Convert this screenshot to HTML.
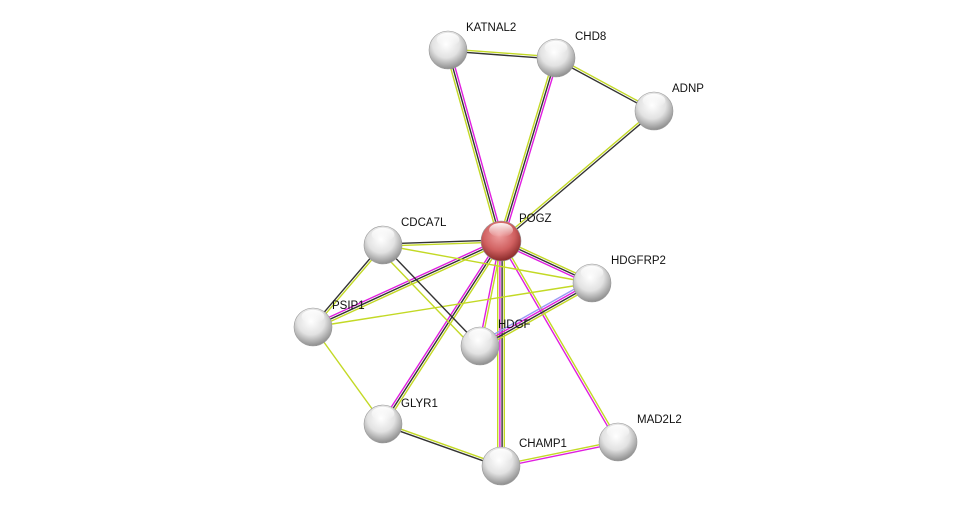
<!DOCTYPE html>
<html><head><meta charset="utf-8">
<style>
html,body{margin:0;padding:0;background:#fff;}
svg{display:block}
text{font-family:"Liberation Sans",sans-serif;font-size:11.5px;fill:#111}
</style></head>
<body>
<svg id="s" width="975" height="511" xmlns="http://www.w3.org/2000/svg">
<defs>
<radialGradient id="g" cx="45%" cy="35%" r="65%">
<stop offset="0" stop-color="#ffffff"/><stop offset="0.55" stop-color="#e2e2e2"/><stop offset="1" stop-color="#8e8e8e"/>
</radialGradient>
<radialGradient id="r" cx="45%" cy="35%" r="65%">
<stop offset="0" stop-color="#f0a0a0"/><stop offset="0.6" stop-color="#d06060"/><stop offset="1" stop-color="#8a2a2a"/>
</radialGradient>
<linearGradient id="h" x1="0" y1="0" x2="0" y2="1">
<stop offset="0" stop-color="#fff" stop-opacity="0.95"/><stop offset="1" stop-color="#fff" stop-opacity="0"/>
</linearGradient>
</defs>
<g id="e"></g><g id="n"></g>
</svg>
<script>
var N={KATNAL2:[448,50],CHD8:[556,58],ADNP:[654,111],POGZ:[501,241],CDCA7L:[383,245],HDGFRP2:[592,283],PSIP1:[313,327],HDGF:[480,346],GLYR1:[383,424],CHAMP1:[501,466],MAD2L2:[618,442]};
var C={y:"#c3d925",k:"#333",m:"#e01ee0",b:"#9a9af5"};
var E=[["POGZ","KATNAL2","ykm"],["POGZ","CHD8","ykm"],["POGZ","ADNP","yk"],["KATNAL2","CHD8","yk"],["CHD8","ADNP","yk"],
["POGZ","CDCA7L","yk"],["POGZ","HDGFRP2","ykm"],["POGZ","PSIP1","ykm"],["POGZ","HDGF","ym"],["POGZ","GLYR1","ykm"],
["POGZ","CHAMP1","ykmy"],["POGZ","MAD2L2","ym"],["CDCA7L","HDGFRP2","y"],["PSIP1","HDGFRP2","y"],["CDCA7L","PSIP1","yk"],["CDCA7L","HDGF","k"],["CDCA7L","HDGF","y"],
["HDGF","HDGFRP2","bmky"],["PSIP1","GLYR1","y"],["GLYR1","CHAMP1","yk"],["CHAMP1","MAD2L2","ym"]];
var s="";
E.forEach(function(e,i){var a=N[e[0]],b=N[e[1]],dx=b[0]-a[0],dy=b[1]-a[1],L=Math.hypot(dx,dy),px=-dy/L,py=dx/L,n=e[2].length;
var extra=(e[0]=="CDCA7L"&&e[1]=="HDGF"&&e[2]=="y")?6:0;
var sp=2.2;
for(var j=0;j<n;j++){var o=(j-(n-1)/2)*sp+extra;
s+='<line x1="'+(a[0]+px*o)+'" y1="'+(a[1]+py*o)+'" x2="'+(b[0]+px*o)+'" y2="'+(b[1]+py*o)+'" stroke="'+C[e[2][j]]+'" stroke-width="1.4"/>';}});
document.getElementById("e").innerHTML=s;
var lab={KATNAL2:[466,31],CHD8:[575,40],ADNP:[672,92],POGZ:[519,222],CDCA7L:[401,226],HDGFRP2:[611,264],PSIP1:[332,309],HDGF:[498,328],GLYR1:[401,407],CHAMP1:[519,447],MAD2L2:[637,423]};
var t="";
for(var k in N){var p=N[k],R=k=="POGZ"?20:19;
t+='<circle cx="'+p[0]+'" cy="'+p[1]+'" r="'+R+'" fill="url(#'+(k=="POGZ"?"r":"g")+')" stroke="#999" stroke-width="0.6"/>';
t+='<ellipse cx="'+p[0]+'" cy="'+(p[1]-R*0.55)+'" rx="'+(R*0.6)+'" ry="'+(R*0.35)+'" fill="url(#h)"/>';
t+='<text x="'+lab[k][0]+'" y="'+lab[k][1]+'">'+k+'</text>';}
document.getElementById("n").innerHTML=t;
</script>
</body></html>
